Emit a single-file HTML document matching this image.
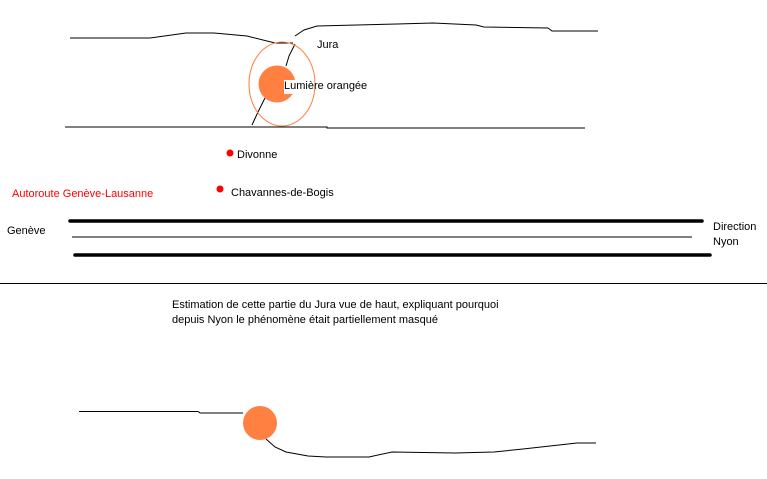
<!DOCTYPE html>
<html><head><meta charset="utf-8"><style>
html,body{margin:0;padding:0;background:#fff;}
svg{display:block;}
text{font-family:"Liberation Sans",sans-serif;font-size:11px;}
</style></head><body>
<svg width="767" height="479" viewBox="0 0 767 479" xmlns="http://www.w3.org/2000/svg">
<g fill="none" stroke="#000" stroke-width="1">
<polyline points="70,38 150,38 186,33 214,33 247,36 275,43 293,43"/>
<polyline points="295,36 304,30 317,26 397,24 433,23 476,25 484,27 548,28 552,31 598,31"/>
<polyline points="295,44 289,56 286,66"/>
<polyline points="265,98 258,112 252,125"/>
<polyline points="65,127 327,127 327,128 585,128"/>
</g>
<ellipse cx="282" cy="84" rx="33" ry="42" fill="none" stroke="#ff8040" stroke-width="1"/>
<circle cx="277" cy="84" r="18.5" fill="#ff8040"/>
<rect x="284" y="80" width="12" height="14" fill="#fff"/>
<text x="317" y="48">Jura</text>
<text x="284" y="89">Lumière orangée</text>
<circle cx="230" cy="153" r="3.5" fill="#f00"/>
<text x="237" y="158">Divonne</text>
<circle cx="220" cy="189" r="3.5" fill="#f00"/>
<text x="231" y="196">Chavannes-de-Bogis</text>
<text x="12" y="197" fill="#f00">Autoroute Genève-Lausanne</text>
<text x="7" y="234">Genève</text>
<text x="713" y="230">Direction</text>
<text x="713" y="245">Nyon</text>
<line x1="70" y1="221" x2="702" y2="221" stroke="#000" stroke-width="3.5" stroke-linecap="round"/>
<line x1="72" y1="237" x2="692" y2="237" stroke="#000" stroke-width="1"/>
<line x1="75" y1="255" x2="710" y2="255" stroke="#000" stroke-width="3.5" stroke-linecap="round"/>
<line x1="0" y1="283.5" x2="767" y2="283.5" stroke="#000" stroke-width="1"/>
<text x="172" y="308">Estimation de cette partie du Jura vue de haut, expliquant pourquoi</text>
<text x="172" y="323">depuis Nyon le phénomène était partiellement masqué</text>
<g fill="none" stroke="#000" stroke-width="1">
<polyline points="79,411.5 198,411.5 200,413 243,413"/>
<polyline points="266,439 275,447 286,452 308,456 326,457 369,457 392,452 455,453 494,452 523,449 577,443 596,443"/>
</g>
<circle cx="260" cy="423" r="17" fill="#ff8040"/>
</svg>
</body></html>
